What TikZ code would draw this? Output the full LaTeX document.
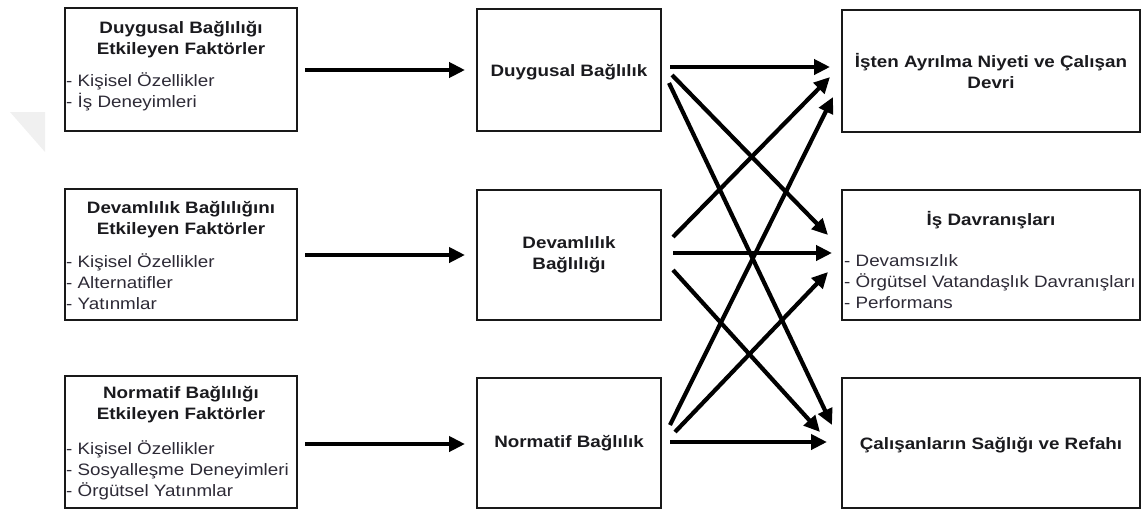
\documentclass[tikz,border=0pt]{standalone}
\usepackage{fontspec}
\setmainfont[FakeStretch=1.14]{Liberation Sans}
\usetikzlibrary{arrows.meta}
\definecolor{headink}{HTML}{1A1A1E}
\definecolor{listink}{HTML}{2D2A36}
\begin{document}
\begin{tikzpicture}[x=1pt,y=-1pt,
  frame/.style={draw=black!90, line width=2.4pt, inner sep=0pt, outer sep=0pt},
  arr/.style={line width=4.2pt, black, -{Triangle[length=16pt,width=15pt]}},
  head/.style={font=\bfseries\fontsize{16.5}{21}\selectfont, align=center, inner sep=0pt, text=headink},
  listtxt/.style={font=\fontsize{16.5}{21}\selectfont, align=left, inner sep=0pt, anchor=west, text=listink}]
\useasboundingbox (0,0) rectangle (1142,512);

% faint corner mark
\fill[black!6] (10,112) -- (45,112) -- (45,152) -- cycle;

% left column: factor boxes
\node[frame, minimum width=232pt, minimum height=123pt] (L1) at (181,69.5) {};
\node[frame, minimum width=232pt, minimum height=131pt] (L2) at (181,254.5) {};
\node[frame, minimum width=232pt, minimum height=132pt] (L3) at (181,442) {};

\node[head] (L1h) at (181,40) {Duygusal Bağlılığı\\Etkileyen Faktörler};
\node[listtxt] (L1l) at (66,91.5) {- Kişisel Özellikler\\- İş Deneyimleri};

\node[head] (L2h) at (181,219.5) {Devamlılık Bağlılığını\\Etkileyen Faktörler};
\node[listtxt] (L2l) at (66,281.5) {- Kişisel Özellikler\\- Alternatifler\\- Yatınmlar};

\node[head] (L3h) at (181,404.5) {Normatif Bağlılığı\\Etkileyen Faktörler};
\node[listtxt] (L3l) at (66,470) {- Kişisel Özellikler\\- Sosyalleşme Deneyimleri\\- Örgütsel Yatınmlar};

% middle column: commitment types
\node[frame, minimum width=184pt, minimum height=122pt] (M1) at (569,70) {};
\node[frame, minimum width=184pt, minimum height=130pt] (M2) at (569,255) {};
\node[frame, minimum width=184pt, minimum height=130pt] (M3) at (569,443) {};

\node[head] (M1t) at (569,72) {Duygusal Bağlılık};
\node[head] (M2t) at (569,255) {Devamlılık\\Bağlılığı};
\node[head] (M3t) at (569,443) {Normatif Bağlılık};

% right column: outcomes
\node[frame, minimum width=298pt, minimum height=122pt] (R1) at (991,71) {};
\node[frame, minimum width=298pt, minimum height=130pt] (R2) at (991,255) {};
\node[frame, minimum width=298pt, minimum height=130pt] (R3) at (991,443) {};

\node[head] (R1t) at (991,71) {İşten Ayrılma Niyeti ve Çalışan\\Devri};
\node[head] (R2h) at (991,220) {İş Davranışları};
\node[listtxt] (R2l) at (844,282) {- Devamsızlık\\- Örgütsel Vatandaşlık Davranışları\\- Performans};
\node[head] (R3t) at (991,445) {Çalışanların Sağlığı ve Refahı};

% factors -> commitment
\draw[arr] ([shift={(8,0.5)}]L1.east) -- ([shift={(-12,0)}]M1.west);
\draw[arr] ([shift={(8,0.5)}]L2.east) -- ([shift={(-12,0)}]M2.west);
\draw[arr] ([shift={(8,2)}]L3.east) -- ([shift={(-12,1)}]M3.west);

% commitment -> outcomes
\draw[arr] ([shift={(9,58)}]M1.north east) -- ([shift={(-12,57)}]R1.north west);
\draw[arr] ([shift={(11,66)}]M1.north east) -- ([shift={(-14,45)}]R2.north west);
\draw[arr] ([shift={(8,74)}]M1.north east) -- ([shift={(-10,47)}]R3.north west);

\draw[arr] ([shift={(12,47)}]M2.north east) -- ([shift={(-12,67)}]R1.north west);
\draw[arr] ([shift={(12,63)}]M2.north east) -- ([shift={(-10,63)}]R2.north west);
\draw[arr] ([shift={(12,80)}]M2.north east) -- ([shift={(-22,54)}]R3.north west);

\draw[arr] ([shift={(9,47)}]M3.north east) -- ([shift={(-9,87)}]R1.north west);
\draw[arr] ([shift={(14,54)}]M3.north east) -- ([shift={(-14,82)}]R2.north west);
\draw[arr] ([shift={(9,64)}]M3.north east) -- ([shift={(-15,64)}]R3.north west);
\end{tikzpicture}
\end{document}
